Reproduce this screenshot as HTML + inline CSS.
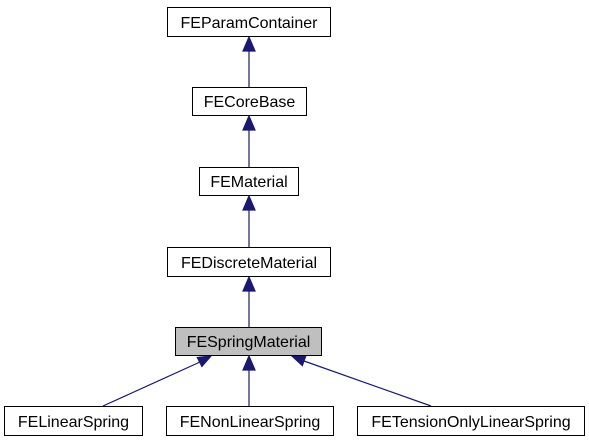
<!DOCTYPE html>
<html><head><style>body{margin:0;background:#fff}</style></head><body>
<svg width="589" height="443" xmlns="http://www.w3.org/2000/svg" font-family="Liberation Sans, sans-serif" font-size="16">
<g stroke="#191970" stroke-width="1.2" fill="#191970">
<line x1="249" y1="87" x2="249" y2="49"/><polygon points="249,37 243,51 255,51"/>
<line x1="249" y1="167" x2="249" y2="129"/><polygon points="249,116 243,130 255,130"/>
<line x1="249" y1="247" x2="249" y2="209"/><polygon points="249,196 243,210 255,210"/>
<line x1="249" y1="327" x2="249" y2="289"/><polygon points="249,277 243,291 255,291"/>
<line x1="249" y1="406" x2="249" y2="369"/><polygon points="249,356 243,370 255,370"/>
<line x1="103" y1="406" x2="200" y2="362"/><polygon points="211,356 197.3,357.5 201.9,366.4"/>
<line x1="431" y1="406" x2="304" y2="361"/><polygon points="292,356 302.3,365.6 305.7,356.3"/>
</g>
<g stroke="#000" stroke-width="1" fill="#fff">
<rect x="167.5" y="7.5" width="163" height="29"/>
<rect x="192.5" y="87.5" width="114" height="28"/>
<rect x="199.5" y="167.5" width="99" height="28"/>
<rect x="167.5" y="247.5" width="163" height="29"/>
<rect x="175.5" y="327.5" width="146" height="28" fill="#bfbfbf"/>
<rect x="4.5" y="406.5" width="138" height="29"/>
<rect x="166.5" y="406.5" width="167" height="29"/>
<rect x="357.5" y="406.5" width="227" height="29"/>
</g>
<g text-anchor="middle" fill="#000">
<text x="249" y="28">FEParamContainer</text>
<text x="249.5" y="107">FECoreBase</text>
<text x="249" y="187">FEMaterial</text>
<text x="249" y="268">FEDiscreteMaterial</text>
<text x="248.5" y="347">FESpringMaterial</text>
<text x="73.5" y="427">FELinearSpring</text>
<text x="250" y="427">FENonLinearSpring</text>
<text x="471" y="427">FETensionOnlyLinearSpring</text>
</g>
</svg>
</body></html>
